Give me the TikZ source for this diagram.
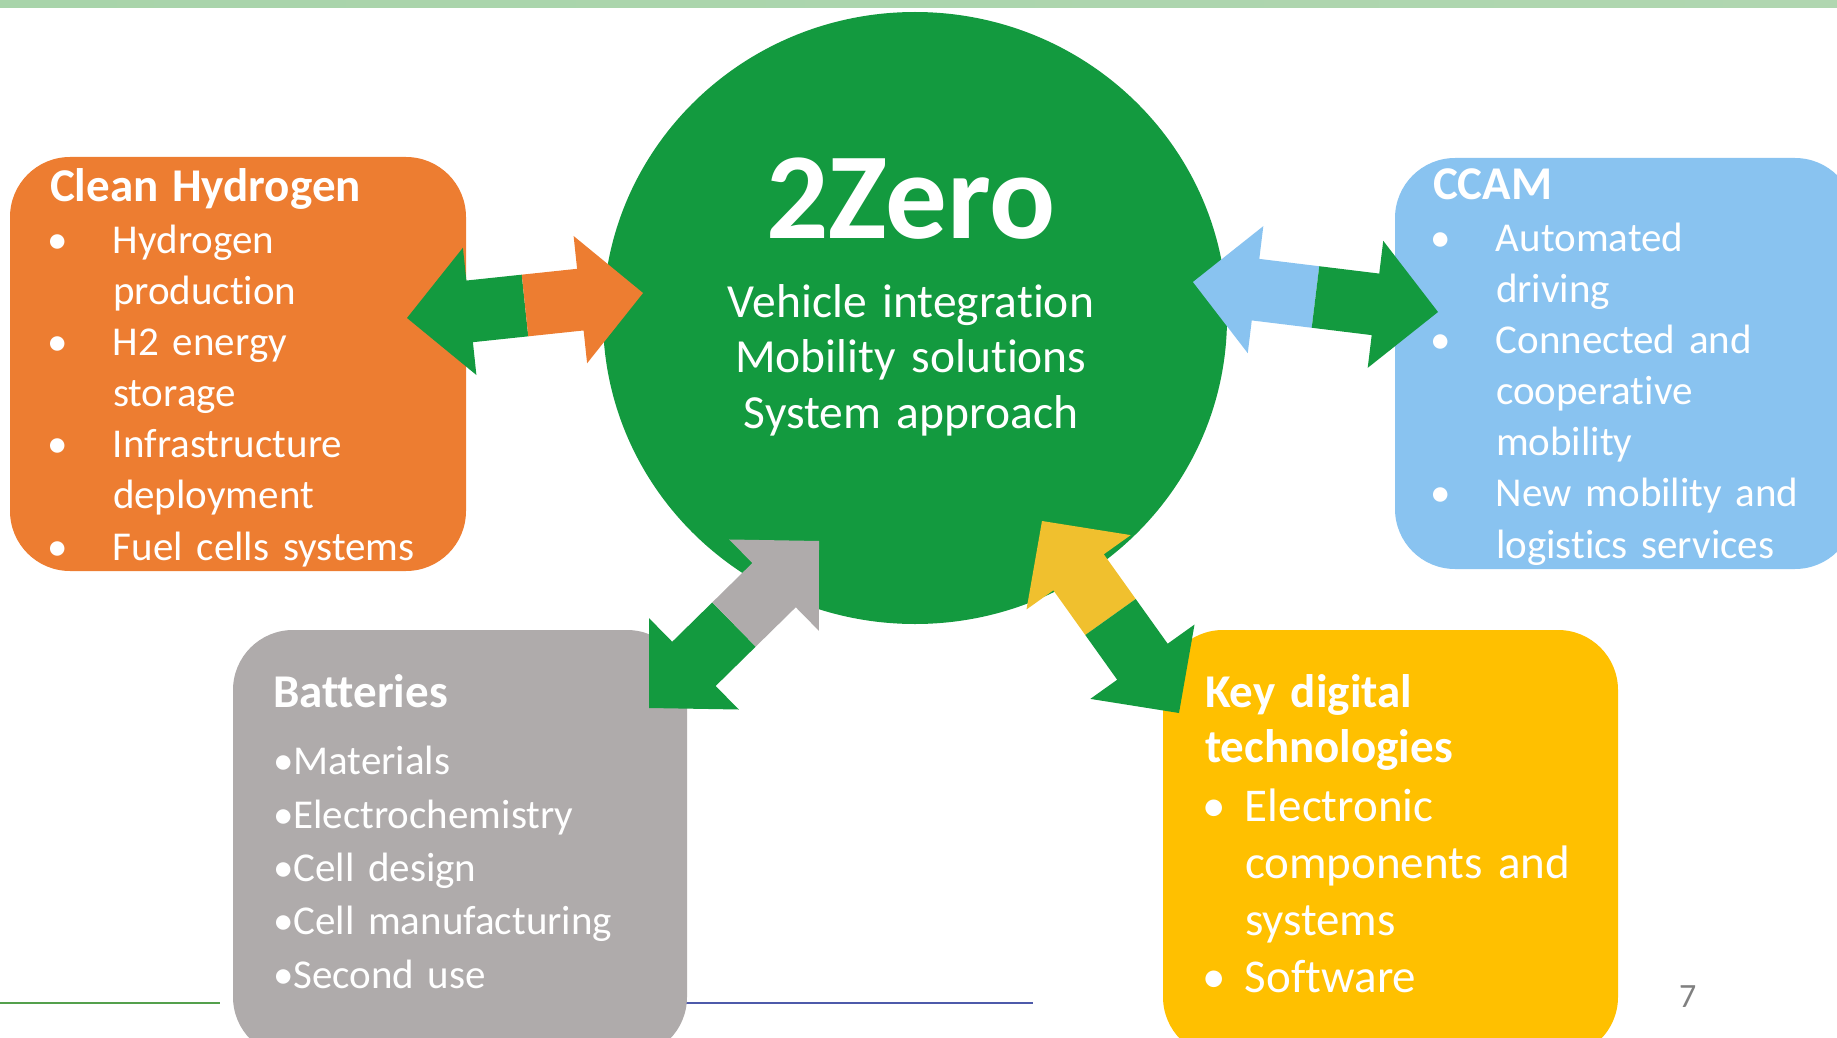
\documentclass[tikz,border=0pt]{standalone}
\usepackage{fontspec}
\setmainfont{Carlito}[Ligatures={NoCommon,NoContextual}, Contextuals=NoAlternate]
\usetikzlibrary{positioning,calc,shapes.geometric}

\definecolor{zgreen}{RGB}{19,154,63}
\definecolor{hyorange}{RGB}{237,125,49}
\definecolor{ccblue}{RGB}{137,195,240}
\definecolor{batgrey}{RGB}{175,171,171}
\definecolor{kdtyellow}{RGB}{255,192,0}
\definecolor{kdtarrow}{RGB}{240,192,46}
\definecolor{rulegreen}{RGB}{84,160,76}
\definecolor{ruleblue}{RGB}{78,90,170}

\newcommand{\bul}[1][63pt]{\makebox[#1][l]{\hspace*{-3pt}\textbullet}}
\newcommand{\ind}[1][63pt]{\hspace*{#1}}
\newcommand{\boxtitle}[1]{{\fontsize{47}{51.2}\selectfont\bfseries #1}}

% one half of a block arrow, from the middle #1 to the tip #2
\newcommand{\halfarrow}[3]{%
  \coordinate (hb) at ($(#2)!63pt!(#1)$);
  \fill[#3] ($(#1)!31pt!90:(#2)$) -- ($(hb)!31pt!90:(#2)$) -- ($(hb)!64pt!90:(#2)$)
    -- (#2) -- ($(hb)!64pt!-90:(#2)$) -- ($(hb)!31pt!-90:(#2)$)
    -- ($(#1)!31pt!-90:(#2)$) -- cycle;
}

\begin{document}
\begin{tikzpicture}[x=1pt, y=-1pt,
box/.style ={rectangle, rounded corners=60pt, inner sep=0pt},
boxtext/.style ={text=white, text width=440pt, align=left, inner sep=0pt,
  anchor=base west, font={\fontsize{41}{51.2}\selectfont}}]
\useasboundingbox (0,0) rectangle (1837,1038);
\clip (0,0) rectangle (1837,1038);
\shade[left color={rgb,255:red,168;green,212;blue,170},
  middle color={rgb,255:red,214;green,228;blue,160},
  right color={rgb,255:red,176;green,214;blue,176}] (0,0) rectangle (1837,8);
\draw[rulegreen, line width=1.6pt] (0,1002.7) -- (220,1002.7);
\draw[ruleblue, line width=1.6pt] (680,1002.7) -- (1033,1002.7);

\node[box, fill=hyorange, minimum width=456pt, minimum height=414pt] (hydrogen) at (238,364) {};
\node[box, fill=ccblue, minimum width=460pt, minimum height=411pt] (ccam) at (1625,363.5) {};
\node[box, fill=batgrey, minimum width=454pt, minimum height=427pt] (batteries) at (460,843.5) {};
\node[box, fill=kdtyellow, minimum width=455pt, minimum height=427pt] (kdt) at (1390.5,843.5) {};
\node[ellipse, fill=zgreen, minimum width=624pt, minimum height=612pt, inner sep=0pt] (zero) at (915,318) {};

\coordinate (hy-a) at (407,318);
\coordinate (hy-b) at (643,293);
\coordinate (cc-a) at (1193,282);
\coordinate (cc-b) at (1438,312);
\coordinate (ba-a) at (649,708);
\coordinate (ba-b) at (819,541);
\coordinate (kd-a) at (1042,521);
\coordinate (kd-b) at (1179,713);
\coordinate (hy-m) at ($(hy-a)!0.5!(hy-b)$);
\coordinate (cc-m) at ($(cc-a)!0.5!(cc-b)$);
\coordinate (ba-m) at ($(ba-a)!0.5!(ba-b)$);
\coordinate (kd-m) at ($(kd-a)!0.5!(kd-b)$);
\halfarrow{hy-m}{hy-a}{zgreen}
\halfarrow{hy-m}{hy-b}{hyorange}
\halfarrow{cc-m}{cc-a}{ccblue}
\halfarrow{cc-m}{cc-b}{zgreen}
\halfarrow{ba-m}{ba-a}{zgreen}
\halfarrow{ba-m}{ba-b}{batgrey}
\halfarrow{kd-m}{kd-a}{kdtarrow}
\halfarrow{kd-m}{kd-b}{zgreen}

\node[text=white, text width=560pt, align=center, inner sep=0pt, anchor=base,
  font={\fontsize{47.5}{55.5}\selectfont}] (zero-txt) at (911,238)
  {{\fontsize{123}{123}\selectfont\bfseries 2Zero}\\[23.5pt]
   Vehicle integration\\ Mobility solutions\\ System approach};
\node[boxtext, below right=45pt and 40pt of hydrogen.north west, anchor=base west] (hydrogen-txt)
  {\boxtitle{Clean Hydrogen}\\
   \bul Hydrogen\\ \ind production\\
   \bul H2 energy\\ \ind storage\\
   \bul Infrastructure\\ \ind deployment\\
   \bul Fuel cells systems};
\node[boxtext, below right=42pt and 38pt of ccam.north west, anchor=base west] (ccam-txt)
  {\boxtitle{CCAM}\\
   \bul Automated\\ \ind driving\\
   \bul Connected and\\ \ind cooperative\\ \ind mobility\\
   \bul New mobility and\\ \ind logistics services};
\node[boxtext, below right=78pt and 40pt of batteries.north west, anchor=base west,
  font={\fontsize{41}{53.3}\selectfont}] (batteries-txt)
  {\boxtitle{Batteries}\\[13.7pt]
   \textbullet Materials\\ \textbullet Electrochemistry\\ \textbullet Cell design\\
   \textbullet Cell manufacturing\\ \textbullet Second use};
\node[boxtext, below right=78pt and 42pt of kdt.north west, anchor=base west,
  font={\fontsize{47}{57}\selectfont}] (kdt-txt)
  {\textbf{Key digital}\\[-2pt] \textbf{technologies}\\[2pt]
   \bul[40pt]Electronic\\ \ind[40pt]components and\\ \ind[40pt]systems\\
   \bul[40pt]Software};
\node[text={rgb,255:red,128;green,128;blue,128}, inner sep=0pt, anchor=base west,
  font={\fontsize{34}{34}\selectfont}] (pagenum) at (1679,1007) {7};
\end{tikzpicture}
\end{document}
